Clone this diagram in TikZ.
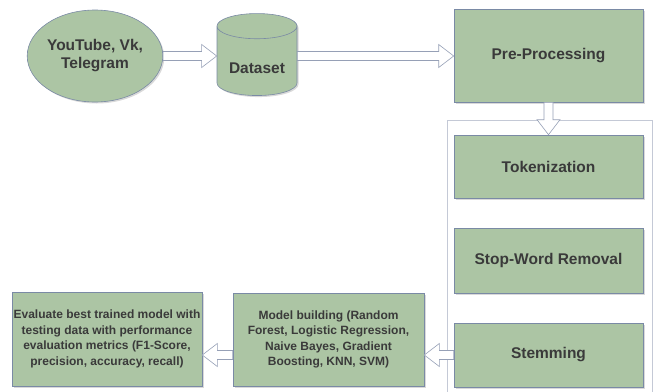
\documentclass[tikz,border=0pt]{standalone}
\usepackage{fontspec}
\setmainfont{Liberation Sans}
\usetikzlibrary{shapes.geometric,shadows,calc}

\definecolor{boxgreen}{RGB}{172,197,164}
\definecolor{boxline}{RGB}{122,138,165}
\definecolor{arrowline}{RGB}{150,160,182}
\definecolor{frameline}{RGB}{196,201,214}
\definecolor{textgray}{RGB}{58,58,58}

\tikzset{
  stage/.style={rectangle, draw=boxline, fill=boxgreen, line width=0.6pt,
    text=textgray, align=center, inner sep=0pt,
    font=\fontsize{15.5}{18}\selectfont\bfseries,
    drop shadow={shadow xshift=1.5pt, shadow yshift=-1.5pt, opacity=0.3}},
  small/.style={font=\fontsize{12}{15.5}\selectfont\bfseries},
  % hollow block arrow from start to target
  flex/.style={draw=arrowline, fill=white, line width=0.6pt,
    to path={let \p1=($(\tikztotarget)-(\tikztostart)$),
      \n1={veclen(\x1,\y1)}, \n2={atan2(\y1,\x1)} in
      [shift={(\tikztostart)}, rotate=\n2]
      (0,-4.5) -- (\n1-15,-4.5) -- (\n1-15,-11.5) -- (\n1,0)
      -- (\n1-15,11.5) -- (\n1-15,4.5) -- (0,4.5) -- cycle}}
}

\begin{document}
\begin{tikzpicture}[x=1pt,y=-1pt]
\clip (0,0) rectangle (656,391);

% frame round the text cleaning steps
\draw[frameline, line width=0.8pt] (447,120) rectangle (652,400);

\node[stage, ellipse, minimum width=135, minimum height=92] (source) at (95,56) {YouTube, Vk,\\Telegram};
\node[stage, cylinder, shape border rotate=90, aspect=0.45,
  minimum width=80, minimum height=82, text height=25pt, text depth=0pt] (data) at (257,61) {Dataset};
\node[stage, minimum width=189, minimum height=93] (pre) at (548.5,55.5) {Pre-Processing};

\node[stage, minimum width=189, minimum height=63] (tok) at (548.5,166.5) {Tokenization};
\node[stage, minimum width=189, minimum height=65] (stop) at (548.5,260.5) {Stop-Word Removal};
\node[stage, minimum width=189, minimum height=64] (stem) at (548.5,355) {Stemming};

\node[stage, small, minimum width=191, minimum height=93] (model) at (328.5,339.5)
  {Model building (Random\\Forest, Logistic Regression,\\Naive Bayes, Gradient\\Boosting, KNN, SVM)};
\node[stage, small, minimum width=190, minimum height=94] (eval) at (107,339)
  {Evaluate best trained model with\\testing data with performance\\evaluation metrics (F1-Score,\\precision, accuracy, recall)};

% arrows
\draw[flex] (source.east) to (source.east -| data.west);
\draw[flex] (data.east |- source.east) to (source.east -| pre.west);
\draw[flex] (pre.south) to (tok.north);
\draw[flex] (stem.west) to (stem.west -| model.east);
\draw[flex] (stem.west -| model.west) to (stem.west -| eval.east);

\end{tikzpicture}
\end{document}
